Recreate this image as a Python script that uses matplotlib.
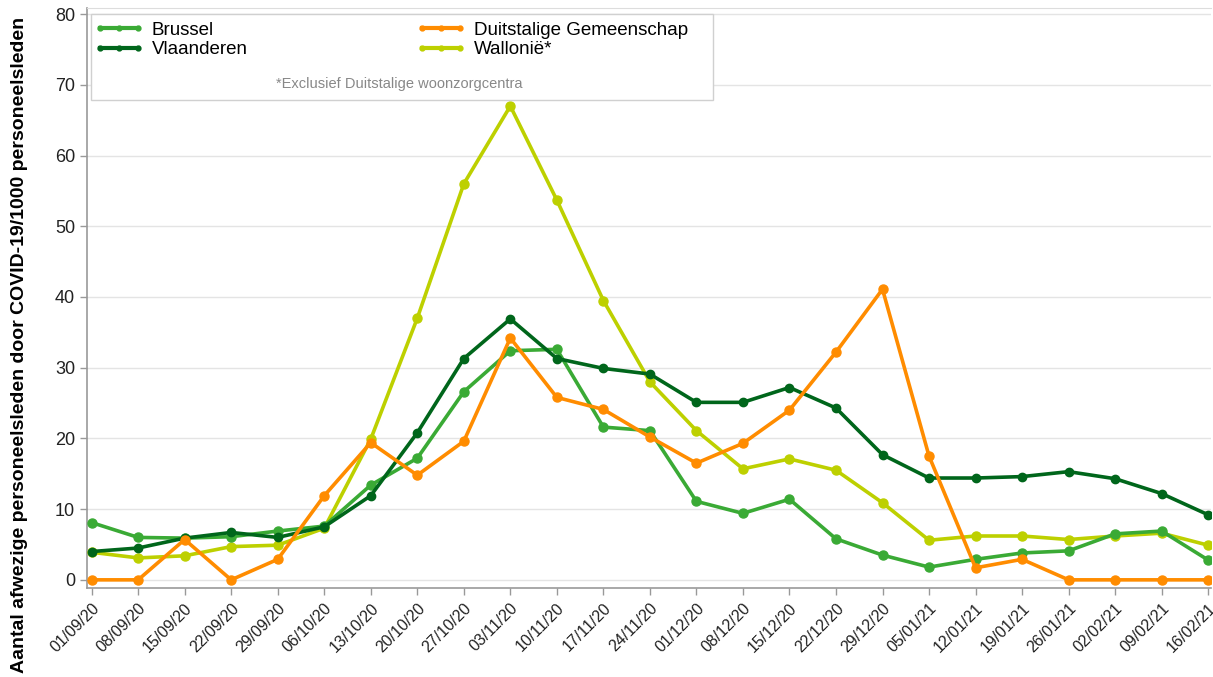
import matplotlib
matplotlib.use("Agg")
import matplotlib.pyplot as plt
from matplotlib.patches import Rectangle
from matplotlib.lines import Line2D

plt.rcParams["font.family"] = ["Liberation Sans", "DejaVu Sans"]

DATES = ["01/09/20", "08/09/20", "15/09/20", "22/09/20", "29/09/20", "06/10/20",
         "13/10/20", "20/10/20", "27/10/20", "03/11/20", "10/11/20", "17/11/20",
         "24/11/20", "01/12/20", "08/12/20", "15/12/20", "22/12/20", "29/12/20",
         "05/01/21", "12/01/21", "19/01/21", "26/01/21", "02/02/21", "09/02/21",
         "16/02/21"]

brussel = [8.1, 6.0, 5.9, 6.1, 6.9, 7.6, 13.4, 17.2, 26.6, 32.4, 32.6, 21.6,
           21.1, 11.1, 9.4, 11.4, 5.8, 3.5, 1.8, 2.9, 3.8, 4.1, 6.5, 6.9, 2.8]
vlaanderen = [4.0, 4.5, 5.9, 6.7, 6.0, 7.5, 11.9, 20.8, 31.3, 36.9, 31.3, 29.9,
              29.1, 25.1, 25.1, 27.2, 24.3, 17.7, 14.4, 14.4, 14.6, 15.3, 14.3,
              12.2, 9.2]
duitstalig = [0.0, 0.0, 5.7, 0.0, 2.9, 11.9, 19.4, 14.8, 19.6, 34.2, 25.8, 24.1,
              20.2, 16.5, 19.3, 24.0, 32.2, 41.1, 17.5, 1.7, 2.9, 0.0, 0.0, 0.0,
              0.0]
wallonie = [3.9, 3.1, 3.4, 4.7, 4.9, 7.3, 19.9, 37.0, 56.0, 67.0, 53.7, 39.5,
            28.0, 21.1, 15.7, 17.1, 15.5, 10.9, 5.6, 6.2, 6.2, 5.7, 6.2, 6.6, 4.9]

# name, values, colour, marker size (legend order: column by column)
SERIES = [
    ("Brussel", brussel, "#3aaa35", 6.5),
    ("Vlaanderen", vlaanderen, "#00661b", 6.0),
    ("Duitstalige Gemeenschap", duitstalig, "#ff8c00", 6.5),
    ("Wallonië*", wallonie, "#bdd000", 6.5),
]

fig = plt.figure(figsize=(12.13, 6.77), dpi=100)
ax = fig.add_axes([0.0717, 0.1315, 0.927, 0.8565])

x = list(range(len(DATES)))
# Wallonie underneath, orange on top
for name, vals, col, ms in [SERIES[3], SERIES[0], SERIES[1], SERIES[2]]:
    ax.plot(x, vals, color=col, linewidth=2.6, marker="o", markersize=ms,
            solid_joinstyle="round", zorder=3)

ax.set_xlim(-0.1, 24.07)
ax.set_ylim(-1.15, 80.85)
ax.set_yticks(range(0, 81, 10))
ax.set_xticks(x)
ax.tick_params(colors="#999999", length=5, width=1)
ax.set_xticklabels(DATES, rotation=45, ha="right", rotation_mode="anchor",
                   fontsize=11.5, color="#222222")
ax.tick_params(axis="x", pad=4)
ax.tick_params(axis="y", labelsize=13, labelcolor="#222222")

ax.grid(axis="y", color="#e4e4e4", linewidth=1)
ax.set_axisbelow(True)
for side in ["left", "bottom"]:
    ax.spines[side].set_color("#999999")
    ax.spines[side].set_linewidth(1.2)
ax.spines["top"].set_color("#dddddd")
ax.spines["right"].set_visible(False)

ax.set_ylabel("Aantal afwezige personeelsleden door COVID-19/1000 personeelsleden",
              fontsize=14, fontweight="bold")
ax.yaxis.set_label_coords(-0.0525, 0.419)

# legend box with footnote
ax.add_patch(Rectangle((0.004, 0.841), 0.553, 0.149, transform=ax.transAxes,
                       facecolor="white", edgecolor="#d0d0d0", linewidth=1,
                       zorder=5))
handles = [Line2D([], [], color=c, linewidth=3, marker="o", markersize=3.5)
           for _, _, c, _ in SERIES]
labels = [n for n, _, _, _ in SERIES]
leg = ax.legend(handles, labels, ncol=2, loc="upper left",
                bbox_to_anchor=(0.0, 0.99), frameon=False, fontsize=13.5,
                numpoints=3, handlelength=2.6, handletextpad=0.45,
                columnspacing=9.0, labelspacing=0.15, borderaxespad=0.0)
leg.set_zorder(6)
ax.text(0.278, 0.869, "*Exclusief Duitstalige woonzorgcentra",
        transform=ax.transAxes, ha="center", va="center", fontsize=10.5,
        color="#888888", zorder=7)

fig.savefig("out.png", dpi=100)
